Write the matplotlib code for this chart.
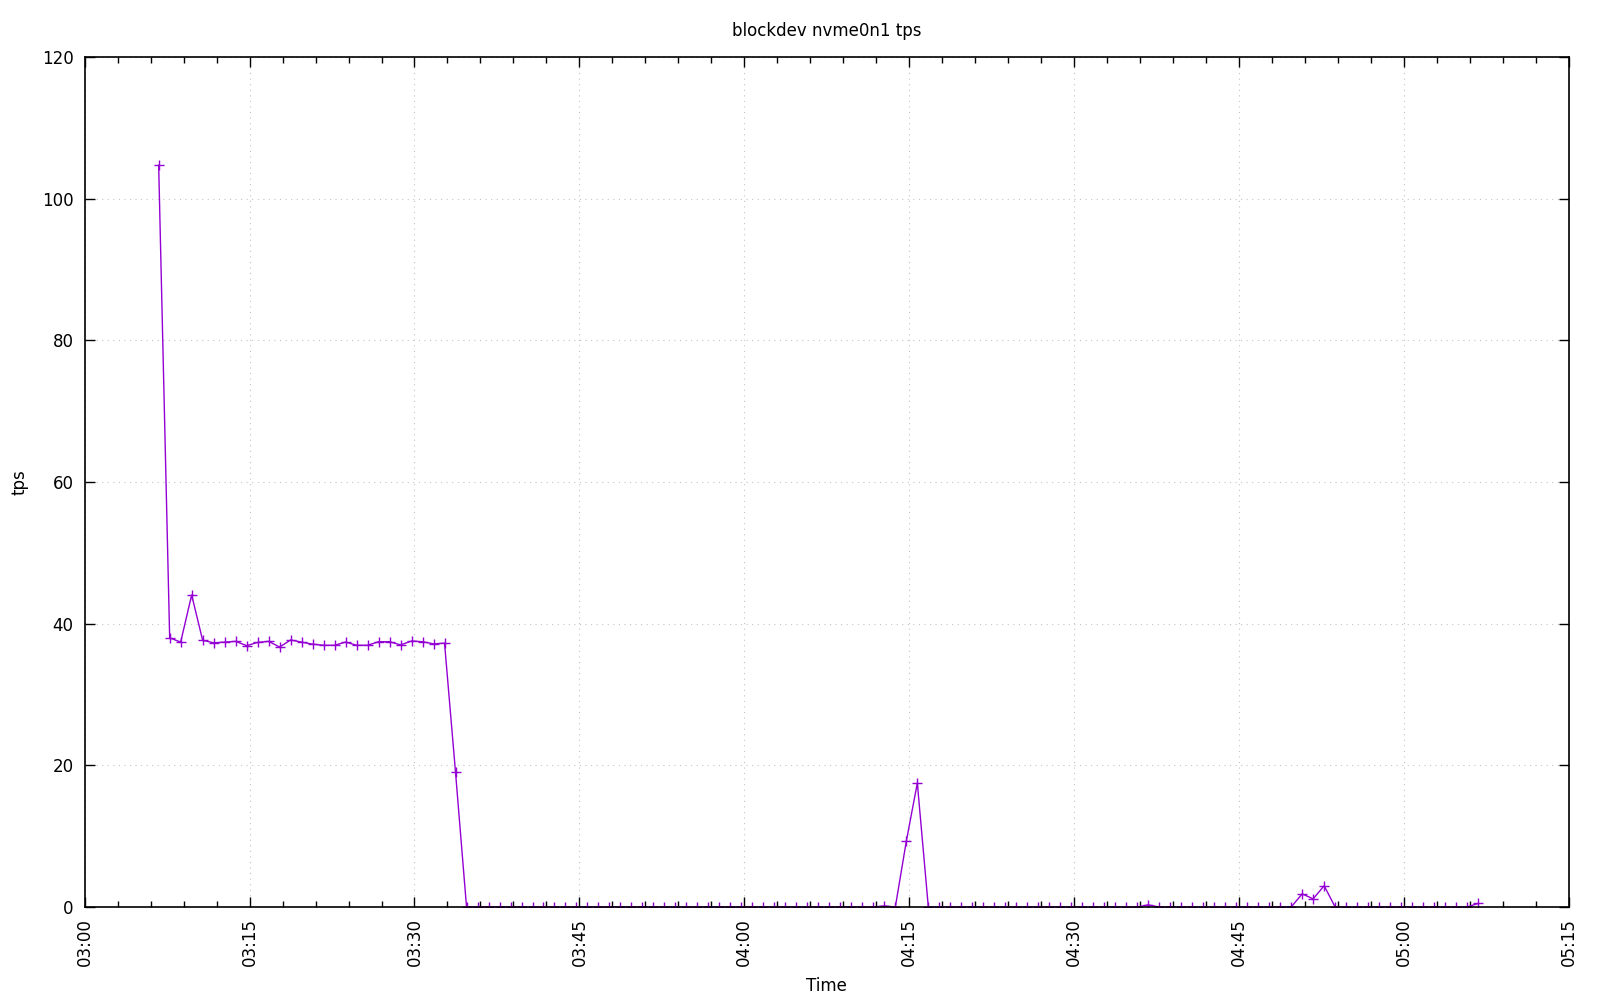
import matplotlib
matplotlib.use('Agg')
import matplotlib.pyplot as plt
import matplotlib.dates as mdates
import pandas as pd

# sampled once per minute, first sample at 03:06:44
start = '2024-01-01 03:06:44'
tps = [
    104.7,
    38.0, 37.4, 44.05, 37.65, 37.3, 37.4, 37.5, 36.9, 37.35, 37.5,
    36.7, 37.7, 37.4, 37.1, 36.95, 36.95, 37.4, 36.95, 36.95, 37.45,
    37.45, 37.0, 37.55, 37.45, 37.15, 37.25,
    19.0,
    0, 0, 0, 0, 0, 0, 0, 0, 0, 0,
    0, 0, 0, 0, 0, 0, 0, 0, 0, 0,
    0, 0, 0, 0, 0, 0, 0, 0, 0, 0,
    0, 0, 0, 0, 0, 0, 0, 0,
    0.15, 0, 9.3, 17.5,
    0, 0, 0, 0, 0, 0, 0, 0, 0, 0,
    0, 0, 0, 0, 0, 0, 0, 0, 0, 0,
    0.3,
    0, 0, 0, 0, 0, 0, 0, 0, 0, 0,
    0, 0, 0,
    1.85, 1.15, 3.0,
    0, 0, 0, 0, 0, 0, 0, 0, 0, 0,
    0, 0, 0,
    0.5,
]
times = pd.date_range(start, periods=len(tps), freq='1min')

x_start = pd.Timestamp('2024-01-01 03:00')
x_end = pd.Timestamp('2024-01-01 05:15')
y_max = 120

plt.rcParams['font.family'] = 'DejaVu Sans'
plt.rcParams['font.size'] = 12

fig = plt.figure(figsize=(16, 10), dpi=100)
ax = fig.add_axes([0.0529, 0.093, 0.9277, 0.85])

ax.plot(times, tps, color='#9400d3', lw=1.0, marker='+', ms=7, mew=1.0)

ax.set_xlim(x_start, x_end)
ax.set_ylim(0, y_max)
ax.xaxis.set_major_locator(mdates.MinuteLocator(byminute=range(0, 60, 15)))
ax.xaxis.set_minor_locator(mdates.MinuteLocator(byminute=range(0, 60, 3)))
ax.xaxis.set_major_formatter(mdates.DateFormatter('%H:%M'))
ax.yaxis.set_major_locator(plt.MultipleLocator(20))
ax.tick_params(which='both', direction='in', top=True, right=True)
ax.tick_params(which='major', length=7, width=1)
ax.tick_params(which='minor', length=4, width=1)
ax.tick_params(axis='x', which='major', rotation=90, pad=8)
ax.tick_params(axis='y', pad=8)
for s in ax.spines.values():
    s.set_linewidth(1.2)

ax.grid(True, which='major', color='#c4c4c4', linestyle=(0, (1, 4)), lw=0.8)

fig.text(0.5166, 0.969, 'blockdev nvme0n1 tps', ha='center', va='center', fontsize=12)
ax.set_xlabel('Time', labelpad=8)
ax.set_ylabel('tps')
ax.yaxis.set_label_coords(-0.038, 0.5)

fig.savefig('out.png', dpi=100, facecolor='white')
